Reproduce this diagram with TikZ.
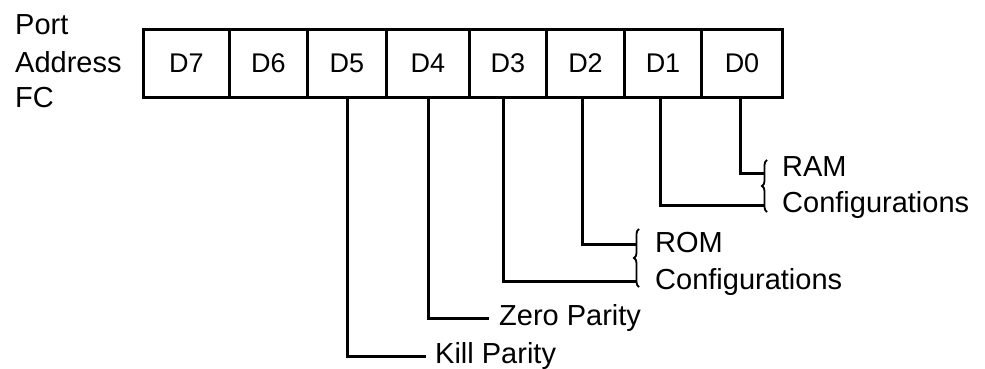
\documentclass[tikz,border=0pt]{standalone}
\usepackage{fontspec}
\setmainfont{Liberation Sans}
\usetikzlibrary{decorations.pathreplacing,calc}
\begin{document}
\begin{tikzpicture}[x=1pt,y=-1pt,
  cell/.style={draw,line width=3pt,minimum height=68pt,inner sep=0pt,anchor=north west,font=\fontsize{27}{30}\selectfont},
  lbl/.style={anchor=west,inner sep=0pt,font=\fontsize{29}{32}\selectfont},
  conn/.style={line width=3pt},
  brc/.style={line width=1.8pt,decorate,decoration={brace,amplitude=5pt,mirror}}]
\useasboundingbox (0,0) rectangle (985,369);
% register cells
\node[cell,minimum width=86pt] (d7) at (142,28) {D7};
\node[cell,minimum width=78pt] (d6) at (228,28) {D6};
\node[cell,minimum width=79pt] (d5) at (306,28) {D5};
\node[cell,minimum width=83pt] (d4) at (385,28) {D4};
\node[cell,minimum width=77pt] (d3) at (468,28) {D3};
\node[cell,minimum width=78pt] (d2) at (545,28) {D2};
\node[cell,minimum width=77pt] (d1) at (623,28) {D1};
\node[cell,minimum width=81pt] (d0) at (700,28) {D0};
% port label
\node[lbl] (port) at (15,25) {Port};
\node[lbl] (addr) at (15,62) {Address};
\node[lbl] (fc) at (15,98) {FC};
% labels
\node[lbl] (kill) at (435,356) {Kill Parity};
\node[lbl] (zero) at (499,318) {Zero Parity};
\node[lbl] (rom) at (655,243) {ROM};
\node[lbl] (romc) at (655,282) {Configurations};
\node[lbl] (ram) at (782,167) {RAM};
\node[lbl] (ramc) at (782,205) {Configurations};
% brace coordinates
\coordinate (ramtop) at (767,160);
\coordinate (rambot) at (767,212);
\coordinate (romtop) at (639,229);
\coordinate (rombot) at (639,287);
\draw[brc] (ramtop) -- (rambot);
\draw[brc] (romtop) -- (rombot);
\coordinate (e0) at (765,173);
\coordinate (e1) at (765,205);
\coordinate (e2) at (636,244);
\coordinate (e3) at (636,281);
% connectors
\draw[conn] ($(d0.south)+(-2,0)$) |- (e0);
\draw[conn] ($(d1.south)+(-3,0)$) |- (e1);
\draw[conn] ($(d2.south)+(-3,0)$) |- (e2);
\draw[conn] ($(d3.south)+(-5,0)$) |- (e3);
\draw[conn] (d4.south) |- ($(zero.west)+(-10,0)$);
\draw[conn] (d5.south) |- ($(kill.west)+(-9,0)$);
\end{tikzpicture}
\end{document}
